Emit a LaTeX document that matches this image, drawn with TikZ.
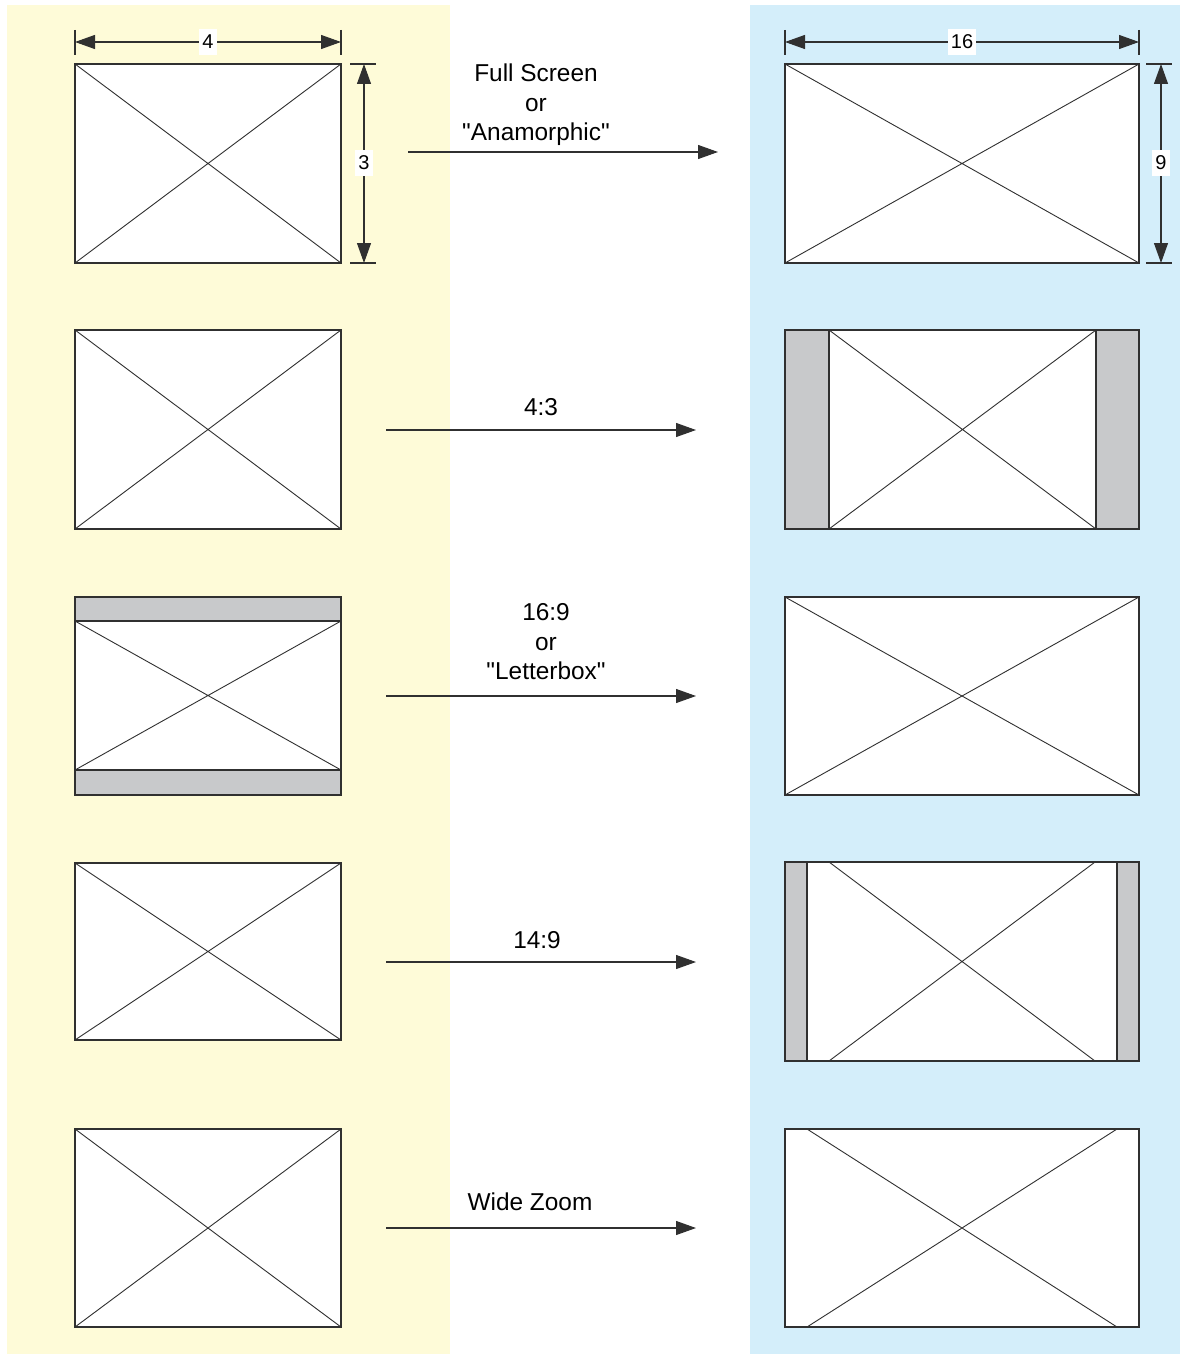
\documentclass[tikz,border=0pt]{standalone}
\usepackage{fontspec}
\setmainfont{Liberation Sans}[Ligatures=TeXOff]
\usetikzlibrary{arrows.meta}
\definecolor{ylw}{HTML}{FEFBD8}
\definecolor{blu}{HTML}{D4EEFA}
\definecolor{gry}{HTML}{C8C9CB}
\definecolor{ln}{HTML}{303030}
\begin{document}
\begin{tikzpicture}[x=0.5pt,y=-0.5pt,
  frame/.style={draw=ln,line width=0.65pt},
  diag/.style={draw=ln,line width=0.45pt},
  bar/.style={fill=gry,draw=ln,line width=0.65pt},
  conn/.style={draw=ln,line width=0.55pt,-{Triangle[length=10pt,width=7pt]}},
  dimarr/.style={draw=ln,line width=0.55pt,{Triangle[length=10pt,width=7pt]}-{Triangle[length=10pt,width=7pt]}},
  ext/.style={draw=ln,line width=0.55pt},
  lbl/.style={font=\fontsize{12.2}{14.75}\selectfont,align=center,text=black},
  dimlbl/.style={font=\fontsize{10}{12}\selectfont,fill=white,inner xsep=1.5pt,inner ysep=3pt,text=black}]
\useasboundingbox (0,0) rectangle (1180,1354);
\fill[ylw] (7,5) rectangle (450,1354);
\fill[blu] (750,5) rectangle (1180,1354);

% ---------- left column ----------
% row 1
\fill[white] (75,64) rectangle (341,263);
\draw[diag] (75,64) -- (341,263) (341,64) -- (75,263);
\draw[frame] (75,64) rectangle (341,263);
% row 2
\fill[white] (75,330) rectangle (341,529);
\draw[diag] (75,330) -- (341,529) (341,330) -- (75,529);
\draw[frame] (75,330) rectangle (341,529);
% row 3 (letterbox)
\fill[white] (75,621) rectangle (341,770);
\draw[bar] (75,597) rectangle (341,621);
\draw[bar] (75,770) rectangle (341,795);
\draw[diag] (75,621) -- (341,770) (341,621) -- (75,770);
\draw[frame] (75,597) rectangle (341,795);
% row 4
\fill[white] (75,863) rectangle (341,1040);
\draw[diag] (75,863) -- (341,1040) (341,863) -- (75,1040);
\draw[frame] (75,863) rectangle (341,1040);
% row 5
\fill[white] (75,1129) rectangle (341,1327);
\draw[diag] (75,1129) -- (341,1327) (341,1129) -- (75,1327);
\draw[frame] (75,1129) rectangle (341,1327);

% ---------- right column ----------
% row 1
\fill[white] (785,64) rectangle (1139,263);
\draw[diag] (785,64) -- (1139,263) (1139,64) -- (785,263);
\draw[frame] (785,64) rectangle (1139,263);
% row 2 (pillarbox)
\fill[white] (829,330) rectangle (1096,529);
\draw[bar] (785,330) rectangle (829,529);
\draw[bar] (1096,330) rectangle (1139,529);
\draw[diag] (829,330) -- (1096,529) (1096,330) -- (829,529);
\draw[frame] (785,330) rectangle (1139,529);
% row 3
\fill[white] (785,597) rectangle (1139,795);
\draw[diag] (785,597) -- (1139,795) (1139,597) -- (785,795);
\draw[frame] (785,597) rectangle (1139,795);
% row 4 (14:9)
\fill[white] (807,862) rectangle (1117,1061);
\draw[bar] (785,862) rectangle (807,1061);
\draw[bar] (1117,862) rectangle (1139,1061);
\draw[diag] (829,862) -- (1095,1061) (1095,862) -- (829,1061);
\draw[frame] (785,862) rectangle (1139,1061);
% row 5 (wide zoom)
\fill[white] (785,1129) rectangle (1139,1327);
\draw[diag] (807,1129) -- (1117,1327) (1117,1129) -- (807,1327);
\draw[frame] (785,1129) rectangle (1139,1327);

% ---------- dimensions ----------
\draw[ext] (75,30) -- (75,55) (341,30) -- (341,55);
\coordinate (d4a) at (75,42); \coordinate (d4b) at (341,42);
\draw[dimarr] (d4a) -- (d4b);
\node[dimlbl] (d4) at (208,42) {4};
\draw[ext] (350,64) -- (376,64) (350,263) -- (376,263);
\coordinate (d3a) at (364,64); \coordinate (d3b) at (364,263);
\draw[dimarr] (d3a) -- (d3b);
\node[dimlbl] (d3) at (364,163) {3};

\draw[ext] (785,30) -- (785,55) (1139,30) -- (1139,55);
\coordinate (d16a) at (785,42); \coordinate (d16b) at (1139,42);
\draw[dimarr] (d16a) -- (d16b);
\node[dimlbl] (d16) at (962,42) {16};
\draw[ext] (1146,64) -- (1172,64) (1146,263) -- (1172,263);
\coordinate (d9a) at (1161,64); \coordinate (d9b) at (1161,263);
\draw[dimarr] (d9a) -- (d9b);
\node[dimlbl] (d9) at (1161,163) {9};

% ---------- connectors ----------
\coordinate (a1s) at (408,152); \coordinate (a1e) at (718,152);
\draw[conn] (a1s) -- (a1e);
\node[lbl] (l1) at (536,105) {Full Screen\\or\\"Anamorphic"};

\coordinate (a2s) at (386,430); \coordinate (a2e) at (696,430);
\draw[conn] (a2s) -- (a2e);
\node[lbl] (l2) at (541,407) {4:3};

\coordinate (a3s) at (386,696); \coordinate (a3e) at (696,696);
\draw[conn] (a3s) -- (a3e);
\node[lbl] (l3) at (546,642) {16:9\\or\\"Letterbox"};

\coordinate (a4s) at (386,962); \coordinate (a4e) at (696,962);
\draw[conn] (a4s) -- (a4e);
\node[lbl] (l4) at (537,940) {14:9};

\coordinate (a5s) at (386,1228); \coordinate (a5e) at (696,1228);
\draw[conn] (a5s) -- (a5e);
\node[lbl] (l5) at (530,1202) {Wide Zoom};
\end{tikzpicture}
\end{document}
